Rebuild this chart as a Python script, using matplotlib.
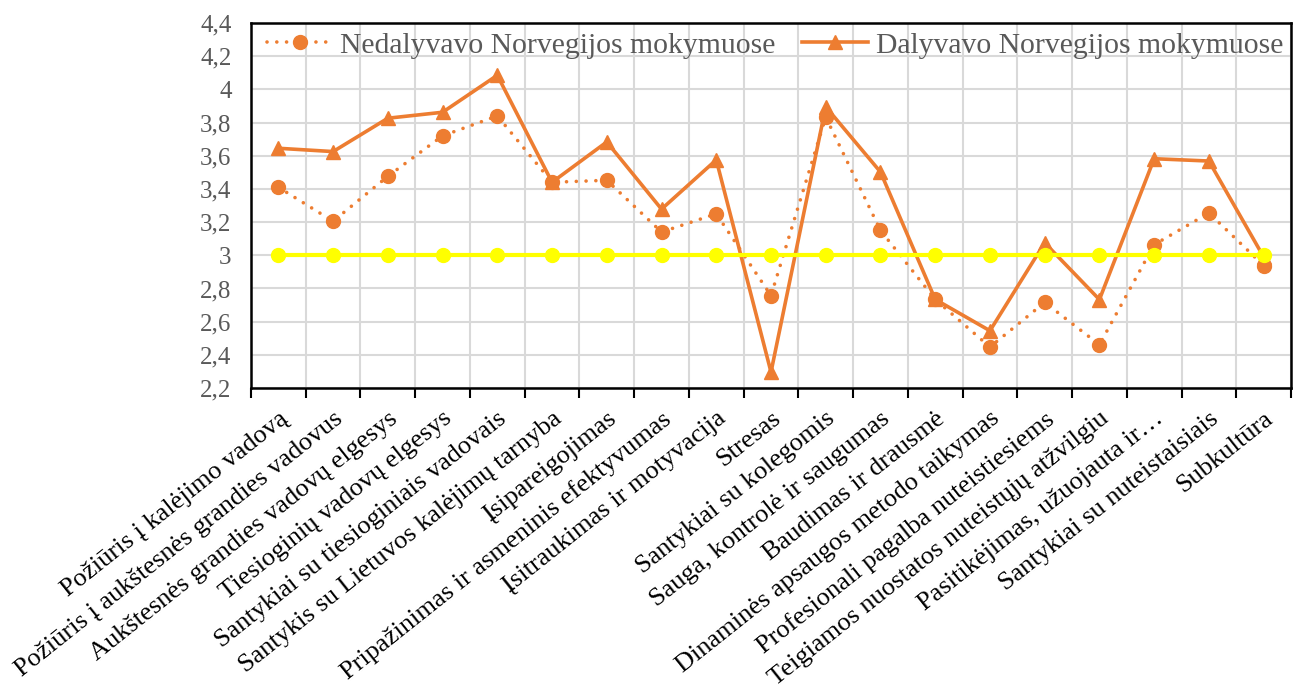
import matplotlib
matplotlib.use("Agg")
import matplotlib.pyplot as plt
import matplotlib.transforms as mtransforms
from matplotlib.ticker import FixedLocator, FuncFormatter
import numpy as np

categories = [
    "Požiūris į kalėjimo vadovą",
    "Požiūris į aukštesnės grandies vadovus",
    "Aukštesnės grandies vadovų elgesys",
    "Tiesioginių vadovų elgesys",
    "Santykiai su tiesioginiais vadovais",
    "Santykis su Lietuvos kalėjimų tarnyba",
    "Įsipareigojimas",
    "Pripažinimas ir asmeninis efektyvumas",
    "Įsitraukimas ir motyvacija",
    "Stresas",
    "Santykiai su kolegomis",
    "Sauga, kontrolė ir saugumas",
    "Baudimas ir drausmė",
    "Dinaminės apsaugos metodo taikymas",
    "Profesionali pagalba nuteistiesiems",
    "Teigiamos nuostatos nuteistųjų atžvilgiu",
    "Pasitikėjimas, užuojauta ir…",
    "Santykiai su nuteistaisiais",
    "Subkultūra",
]

nedalyvavo = [3.41, 3.205, 3.476, 3.72, 3.84, 3.44, 3.452, 3.14, 3.25, 2.757,
              3.833, 3.15, 2.734, 2.447, 2.716, 2.461, 3.064, 3.255, 2.938]
dalyvavo = [3.645, 3.625, 3.826, 3.862, 4.085, 3.44, 3.683, 3.278, 3.575, 2.296,
            3.895, 3.502, 2.734, 2.545, 3.075, 2.733, 3.582, 3.568, 2.99]
riba = [3.0] * len(categories)

yticks = [2.2, 2.4, 2.6, 2.8, 3.0, 3.2, 3.4, 3.6, 3.8, 4.0, 4.2, 4.4]

plt.rcParams['font.family'] = ['Liberation Serif', 'DejaVu Serif']

orange = '#ED7D31'
yellow = '#FFFF00'

fig = plt.figure(figsize=(13.15, 6.86), dpi=100)
ax = fig.add_axes([251/1315, 1 - 388/686, (1291 - 251)/1315, (388 - 23)/686])

x = np.arange(len(categories))

ax.plot(x, nedalyvavo, color=orange, lw=2.6, linestyle=(0, (0.01, 2.7)),
        dash_capstyle='round', marker='o', markersize=10,
        label='Nedalyvavo Norvegijos mokymuose', zorder=3)
ax.plot(x, dalyvavo, color=orange, lw=2.6, marker='^', markersize=10,
        label='Dalyvavo Norvegijos mokymuose', zorder=4)
ax.plot(x, riba, color=yellow, lw=3.0, marker='o', markersize=10,
        label='_nolegend_', zorder=5)

ax.set_xlim(-0.5, len(categories) - 0.5)
ax.set_ylim(2.2, 4.4)
ax.set_yticks(yticks)
ax.yaxis.set_major_formatter(FuncFormatter(
    lambda v, p: ('%g' % round(v, 1)).replace('.', ',')))

ax.set_xticks(x)
ax.set_xticklabels(categories, rotation=38.5, ha='right', rotation_mode='anchor',
                   fontsize=19, color='black')
offset = mtransforms.ScaledTranslation(5 / 100, 0, fig.dpi_scale_trans)
for lbl in ax.get_xticklabels():
    lbl.set_transform(lbl.get_transform() + offset)
ax.xaxis.set_minor_locator(FixedLocator(np.arange(-0.5, len(categories), 1.0)))
ax.tick_params(axis='x', which='major', length=0, pad=14)
ax.tick_params(axis='x', which='minor', length=7, width=1.5, color='black',
               direction='out')
ax.tick_params(axis='y', which='major', length=0, pad=14, labelsize=18,
               labelcolor='#595959')

ax.grid(True, axis='y', which='major', color='#D9D9D9', lw=1.5)
ax.grid(True, axis='x', which='minor', color='#D9D9D9', lw=1.5)
ax.grid(False, axis='x', which='major')
ax.set_axisbelow(True)

for s in ax.spines.values():
    s.set_color('black')
    s.set_linewidth(1.8)

leg = ax.legend(loc='upper center', bbox_to_anchor=(0.504, 1.008), ncol=2,
                frameon=False, fontsize=21.3, handlelength=2.2,
                handletextpad=0.27, columnspacing=0.9, borderaxespad=0.0)
for t in leg.get_texts():
    t.set_color('#595959')

fig.savefig('out.png', dpi=100)
